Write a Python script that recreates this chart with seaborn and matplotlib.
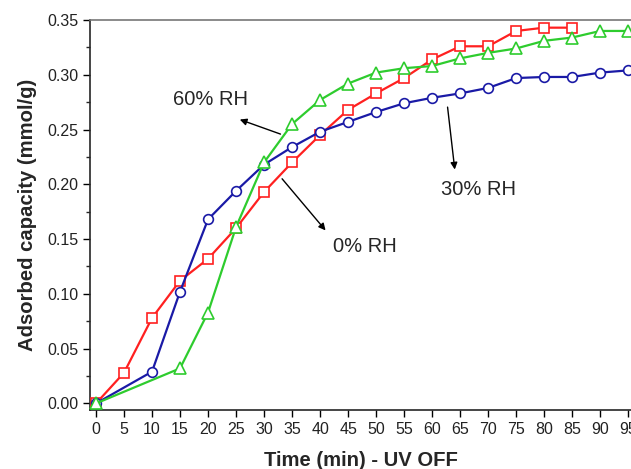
import matplotlib
matplotlib.use("Agg")
import matplotlib.pyplot as plt
from matplotlib.ticker import MultipleLocator
import seaborn as sns
import pandas as pd

# data
time_0rh = [0, 5, 10, 15, 20, 25, 30, 35, 40, 45, 50, 55, 60, 65, 70, 75, 80, 85]
cap_0rh = [0.000, 0.028, 0.078, 0.112, 0.132, 0.160, 0.193, 0.220, 0.245, 0.268,
           0.283, 0.297, 0.314, 0.326, 0.326, 0.340, 0.343, 0.343]

time_30rh = [0, 10, 15, 20, 25, 30, 35, 40, 45, 50, 55, 60, 65, 70, 75, 80, 85, 90, 95]
cap_30rh = [0.000, 0.029, 0.102, 0.168, 0.194, 0.218, 0.234, 0.248, 0.257, 0.266,
            0.274, 0.279, 0.283, 0.288, 0.297, 0.298, 0.298, 0.302, 0.304]

time_60rh = [0, 15, 20, 25, 30, 35, 40, 45, 50, 55, 60, 65, 70, 75, 80, 85, 90, 95]
cap_60rh = [0.000, 0.032, 0.083, 0.161, 0.220, 0.255, 0.277, 0.292, 0.302, 0.306,
            0.308, 0.315, 0.320, 0.324, 0.331, 0.334, 0.340, 0.340]

series = [
    ("0% RH", time_0rh, cap_0rh, "#ff2020", "s", 6.5),
    ("30% RH", time_30rh, cap_30rh, "#1a1aa6", "o", 7),
    ("60% RH", time_60rh, cap_60rh, "#2ecc2e", "^", 8),
]

sns.set_style("ticks")
plt.rcParams['font.family'] = ['Liberation Sans', 'DejaVu Sans']

fig = plt.figure(figsize=(6.31, 4.69), dpi=100)
# the reference is cropped on the right, so the axes run to the figure edge
ax = fig.add_axes([90 / 631, 1 - 410 / 469, 1 - 90 / 631, (410 - 20) / 469])

for name, t, c, col, mk, ms in series:
    df = pd.DataFrame({"Time": t, "Capacity": c})
    sns.lineplot(data=df, x="Time", y="Capacity", ax=ax, color=col, marker=mk,
                 markersize=ms, mfc="white", mec=col, mew=1.2,
                 lw=1.6, clip_on=False, zorder=3)

ax.set_xlim(-1.07, 95.5)
ax.set_ylim(-0.006, 0.35)
ax.xaxis.set_major_locator(MultipleLocator(5))
ax.yaxis.set_major_locator(MultipleLocator(0.05))
ax.yaxis.set_minor_locator(MultipleLocator(0.025))
ax.yaxis.set_major_formatter(matplotlib.ticker.FormatStrFormatter("%.2f"))
ax.tick_params(axis="both", which="major", length=5, width=1, labelsize=11.5,
               colors="black", labelcolor="#222222")
ax.tick_params(axis="y", which="minor", length=3, width=1)
for s in ["left", "bottom"]:
    ax.spines[s].set_linewidth(1.2)
ax.spines["top"].set_color("#777777")
ax.spines["top"].set_linewidth(1.2)
ax.spines["right"].set_visible(False)

ax.set_xlabel("Time (min) - UV OFF", fontsize=14.6, fontweight="bold", labelpad=10)
ax.set_ylabel("Adsorbed capacity (mmol/g)", fontsize=14.6, fontweight="bold", labelpad=7)

arrow = dict(arrowstyle="-|>", color="black", lw=1, mutation_scale=10)
ax.annotate("", xy=(25.2, 0.260), xytext=(33.4, 0.245), arrowprops=arrow)
ax.text(20.4, 0.277, "60% RH", fontsize=14.5, ha="center", va="center")
ax.annotate("", xy=(41.3, 0.156), xytext=(32.9, 0.207), arrowprops=arrow)
ax.text(48.0, 0.143, "0% RH", fontsize=14.5, ha="center", va="center")
ax.annotate("", xy=(64.1, 0.211), xytext=(62.7, 0.273), arrowprops=arrow)
ax.text(68.2, 0.195, "30% RH", fontsize=14.5, ha="center", va="center")

fig.savefig("out.png", dpi=100)
